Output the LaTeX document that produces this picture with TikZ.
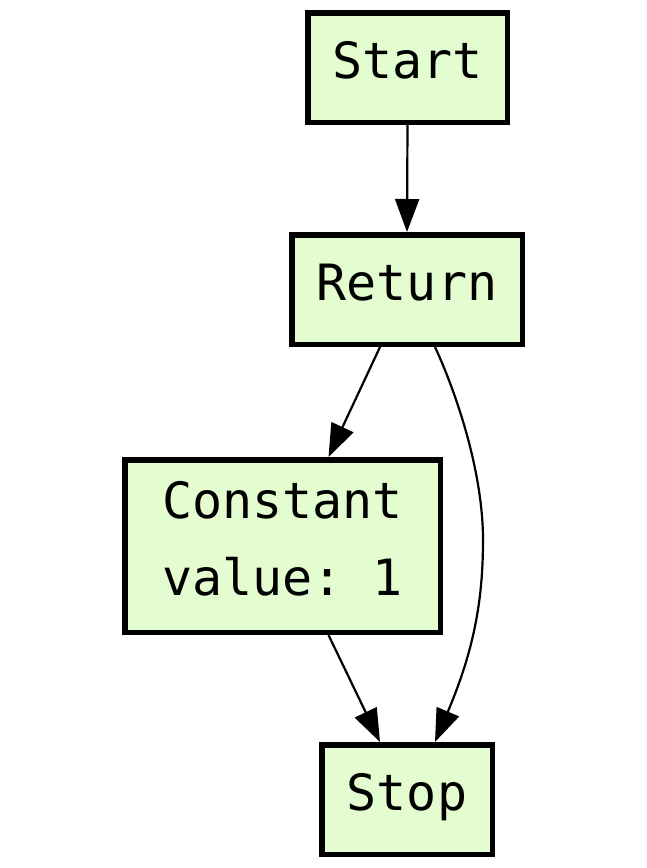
\documentclass[tikz,border=0pt]{standalone}
\usepackage{fontspec}
\setmonofont{DejaVu Sans Mono}
\usetikzlibrary{arrows.meta}
\definecolor{nodefill}{HTML}{E3FCD0}
\begin{document}
\begin{tikzpicture}[x=1pt,y=-1pt,
  box/.style={draw=black,line width=5.5pt,fill=nodefill,font=\ttfamily\fontsize{50}{77}\selectfont,inner sep=0pt,align=center,text height=37pt,text depth=16pt},
  edge/.style={line width=2.2pt,-{Triangle[length=33pt,width=24pt]}}]
\useasboundingbox (0,0) rectangle (647,868);
\node[box,minimum width=199.5,minimum height=109.5] (start) at (407.5,67.5) {Start};
\node[box,minimum width=230.5,minimum height=109.5] (ret) at (407,289.5) {Return};
\node[box,minimum width=315.5,minimum height=172.5,text height=114pt] (const) at (282.5,546) {Constant\\value: 1};
\node[box,minimum width=170.5,minimum height=109.5] (stop) at (407,799.5) {Stop};
\draw[edge] (start.south) -- (ret.north);
\draw[edge] ([xshift=-27pt]ret.south) -- ([xshift=46pt]const.north);
\draw[edge] ([xshift=46pt]const.south) -- ([xshift=-27pt]stop.north);
\draw[edge] ([xshift=28pt]ret.south) .. controls (455,390) and (483,470) .. (483,540)
  .. controls (483,600) and (474,650) .. ([xshift=28pt]stop.north);
\end{tikzpicture}
\end{document}
